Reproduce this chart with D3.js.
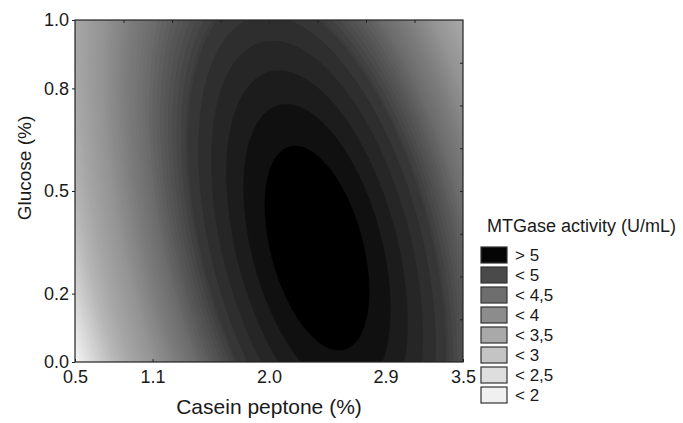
<!DOCTYPE html>
<html>
<head>
<meta charset="utf-8">
<script src="https://cdn.jsdelivr.net/npm/d3@7"></script>
<style>
  body { margin: 0; background: #fff; }
  text { font-family: "Liberation Sans", Arial, sans-serif; fill: #1a1a1a; }
</style>
</head>
<body>
<div id="chart"></div>
<script>
// tick labels of both axes
let caseinTicks = [0.5, 1.1, 2.0, 2.9, 3.5];
let glucoseTicks = [0.0, 0.2, 0.5, 0.8, 1.0];

// quadratic response surface (casein C %, glucose G %), estimated from the contours
let modelTerms = ["1", "C", "G", "C^2", "G^2", "C*G"];
let modelCoef = [-0.5289, 4.2981, 3.2745, -0.8395, -1.5254, -0.9526];

// contour levels of the dark rings around the maximum and their greys
let ringLevels = [4.427, 4.532, 4.651, 4.774, 4.89, 5.0];
let ringGrays = [54, 46, 38, 28, 16, 0];

// legend classes
let legendLabels = ["> 5", "< 5", "< 4,5", "< 4", "< 3,5", "< 3", "< 2,5", "< 2"];
let legendFills = ["#050505", "#4a4a4a", "#6e6e6e", "#8c8c8c", "#a9a9a9", "#c4c4c4", "#dedede", "#f0f0f0"];

let svgWidth = 683, svgHeight = 423;
let margin = { top: 20, left: 75 };
let width = 388, height = 342;

let svg = d3.select("#chart")
  .append("svg")
  .attr("width", svgWidth)
  .attr("height", svgHeight);

let x = d3.scaleLinear().domain([0.5, 3.5]).range([margin.left, margin.left + width]);
let y = d3.scaleLinear().domain([0, 1]).range([margin.top + height, margin.top]);

// evaluate the model on a grid
function model(c, g) {
  let terms = [1, c, g, c * c, g * g, c * g];
  return d3.sum(terms, (t, i) => t * modelCoef[i]);
}
let nx = 194, ny = 171;
let values = new Array(nx * ny);
for (let j = 0; j < ny; j++) {
  for (let i = 0; i < nx; i++) {
    let c = x.invert(margin.left + (i + 0.5) * width / nx);
    let g = y.invert(margin.top + (j + 0.5) * height / ny);
    values[i + j * nx] = model(c, g);
  }
}

// fine steps for the smooth outer gradient, then the rings
let outerLevels = d3.range(0, 89).map(k => Math.round(k * 5) / 100);
let thresholds = outerLevels.concat(ringLevels);
let contours = d3.contours().size([nx, ny]).thresholds(thresholds)(values);

// grey ramp outside the rings
let outerGray = d3.scaleLinear()
  .domain([4.40, 4.231, 3.885, 3.183, 2.682, 2.426, 1.408, 1.0])
  .range([60, 78, 108, 148, 168, 180, 245, 250])
  .clamp(true);

function bandColor(t) {
  let ri = ringLevels.indexOf(t);
  let v = ri >= 0 ? ringGrays[ri] : Math.round(outerGray(t));
  return d3.rgb(v, v, v).toString();
}

let proj = d3.geoTransform({
  point: function (px, py) {
    this.stream.point(x(0.5 + 3 * px / nx), y(1 - py / ny));
  }
});
let path = d3.geoPath(proj);

svg.append("clipPath").attr("id", "plotClip")
  .append("rect")
  .attr("x", margin.left).attr("y", margin.top)
  .attr("width", width).attr("height", height);

let plot = svg.append("g").attr("clip-path", "url(#plotClip)");
plot.append("rect")
  .attr("x", margin.left).attr("y", margin.top)
  .attr("width", width).attr("height", height)
  .attr("fill", "#fafafa");
plot.selectAll("path")
  .data(contours.filter(d => d.coordinates.length))
  .enter()
  .append("path")
  .attr("d", path)
  .attr("fill", d => bandColor(d.value))
  .attr("stroke", d => bandColor(d.value))
  .attr("stroke-width", 0.6);

// axes
let fmt = d3.format(".1f");
let axLeft = svg.append("g")
  .attr("transform", `translate(${margin.left},0)`)
  .call(d3.axisLeft(y).tickValues(glucoseTicks).tickFormat(fmt).tickSize(3).tickPadding(3));
let axBottom = svg.append("g")
  .attr("transform", `translate(0,${margin.top + height})`)
  .call(d3.axisBottom(x).tickValues(caseinTicks).tickFormat(fmt).tickSize(-3).tickPadding(8));
let axTop = svg.append("g")
  .attr("transform", `translate(0,${margin.top})`)
  .call(d3.axisTop(x).tickValues(d3.range(1, 8).map(k => 0.5 + k * 3 / 8)).tickFormat("").tickSize(-3));
let axRight = svg.append("g")
  .attr("transform", `translate(${margin.left + width},0)`)
  .call(d3.axisRight(y).tickValues(d3.range(1, 8).map(k => k / 8)).tickFormat("").tickSize(-3));

[axLeft, axBottom, axTop, axRight].forEach(a => {
  a.select(".domain").remove();
  a.selectAll("line").attr("stroke", "#222");
});
axLeft.selectAll("text").style("font-size", "18px").attr("fill", "#1a1a1a");
axBottom.selectAll("text").style("font-size", "18px").attr("fill", "#1a1a1a");

svg.append("rect")
  .attr("x", margin.left).attr("y", margin.top)
  .attr("width", width).attr("height", height)
  .attr("fill", "none")
  .attr("stroke", "#222")
  .attr("stroke-width", 1.2);

// axis titles
svg.append("text")
  .attr("x", margin.left + width / 2)
  .attr("y", 414)
  .attr("text-anchor", "middle")
  .style("font-size", "21px")
  .text("Casein peptone (%)");
svg.append("text")
  .attr("transform", "translate(31,168) rotate(-90)")
  .attr("text-anchor", "middle")
  .style("font-size", "19px")
  .text("Glucose (%)");

// legend
let legend = svg.append("g");
legend.append("text")
  .attr("x", 487).attr("y", 232)
  .style("font-size", "18px")
  .text("MTGase activity (U/mL)");
let items = legend.selectAll(".item")
  .data(legendLabels)
  .enter()
  .append("g")
  .attr("class", "item")
  .attr("transform", (d, i) => `translate(481,${247 + i * 20})`);
items.append("rect")
  .attr("width", 26).attr("height", 16)
  .attr("fill", (d, i) => legendFills[i])
  .attr("stroke", "#333")
  .attr("stroke-width", 1.2);
items.append("text")
  .attr("x", 34).attr("y", 14)
  .style("font-size", "17px")
  .text(d => d);
</script>
</body>
</html>
